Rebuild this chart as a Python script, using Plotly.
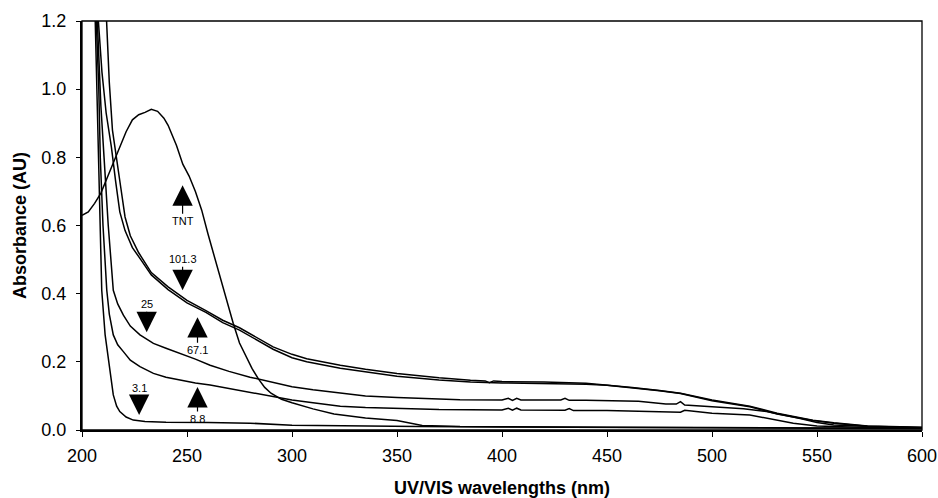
import plotly.graph_objects as go

# ---------------- data ----------------
wl_tnt = [200, 203, 206, 209, 212, 215, 218, 221, 224, 227, 230, 233, 236, 239, 241, 245,
          248, 251, 254, 257, 260, 263, 266, 269, 272, 275, 278, 281, 284, 287, 290, 295,
          300, 310, 320, 335, 350, 362, 380, 400, 450, 500, 550, 600]
abs_tnt = [0.63, 0.64, 0.665, 0.695, 0.74, 0.785, 0.83, 0.875, 0.91, 0.925, 0.932, 0.941,
           0.935, 0.915, 0.894, 0.835, 0.78, 0.745, 0.70, 0.645, 0.575, 0.51, 0.44, 0.375,
           0.313, 0.255, 0.215, 0.18, 0.15, 0.125, 0.108, 0.09, 0.08, 0.062, 0.047, 0.035,
           0.028, 0.013, 0.01, 0.009, 0.008, 0.007, 0.006, 0.005]

wl_101 = [211.7, 213, 214.5, 216.5, 218.5, 220.5, 223, 227, 233, 241, 250, 259, 267, 275,
          283, 291, 300, 307, 323, 335, 350, 370, 385, 392, 394, 396, 400, 420, 440, 450,
          462, 475, 485, 500, 518, 531, 548, 558, 574, 600]
abs_101 = [1.2, 1.02, 0.88, 0.80, 0.71, 0.625, 0.57, 0.52, 0.462, 0.42, 0.38, 0.35, 0.322,
           0.30, 0.272, 0.244, 0.222, 0.209, 0.19, 0.178, 0.166, 0.153, 0.146, 0.144, 0.139,
           0.144, 0.142, 0.141, 0.137, 0.132, 0.125, 0.116, 0.108, 0.088, 0.07, 0.049,
           0.029, 0.021, 0.012, 0.008]

wl_671 = [207.8, 209.5, 211.5, 214, 216, 218, 220.5, 224, 228, 233, 241, 250, 259, 267,
          275, 283, 291, 300, 307, 323, 335, 350, 370, 385, 400, 420, 440, 450, 462, 475,
          485, 500, 518, 531, 548, 558, 574, 600]
abs_671 = [1.2, 1.05, 0.93, 0.83, 0.73, 0.64, 0.585, 0.535, 0.50, 0.455, 0.412, 0.373,
           0.345, 0.315, 0.293, 0.265, 0.237, 0.212, 0.20, 0.181, 0.17, 0.158, 0.147,
           0.141, 0.138, 0.137, 0.134, 0.131, 0.124, 0.115, 0.107, 0.086, 0.068, 0.047,
           0.028, 0.02, 0.011, 0.007]

wl_25 = [207.3, 209, 210.5, 212.5, 214.9, 217, 219.7, 223, 227.6, 234, 240, 246.7, 254,
         261, 270, 280, 290, 300, 310, 323, 335, 350, 365, 380, 400, 403, 405, 407, 409,
         420, 428, 430, 432, 440, 450, 465, 478, 483, 485, 487, 500, 515, 526, 535, 542,
         550, 558, 575, 600]
abs_25 = [1.2, 0.95, 0.80, 0.60, 0.41, 0.37, 0.337, 0.305, 0.279, 0.254, 0.24, 0.225,
          0.208, 0.19, 0.172, 0.155, 0.14, 0.127, 0.118, 0.108, 0.10, 0.095, 0.092, 0.089,
          0.088, 0.093, 0.087, 0.093, 0.088, 0.088, 0.088, 0.093, 0.087, 0.087, 0.086,
          0.084, 0.076, 0.076, 0.083, 0.073, 0.068, 0.062, 0.054, 0.043, 0.034, 0.022,
          0.015, 0.01, 0.006]

wl_88 = [206.8, 208, 208.7, 210, 211.8, 213, 214.9, 217, 219.7, 223, 227.6, 234, 240,
         246.7, 254, 261, 270, 280, 290, 300, 310, 323, 335, 350, 370, 400, 403, 405, 407,
         409, 430, 432, 434, 450, 470, 485, 487, 500, 518, 530, 538.7, 550, 570, 600]
abs_88 = [1.2, 1.0, 0.80, 0.60, 0.41, 0.34, 0.279, 0.25, 0.23, 0.205, 0.186, 0.166, 0.155,
          0.147, 0.138, 0.132, 0.122, 0.11, 0.098, 0.088, 0.08, 0.07, 0.066, 0.064, 0.06,
          0.059, 0.064, 0.058, 0.064, 0.059, 0.058, 0.063, 0.057, 0.057, 0.054, 0.052,
          0.058, 0.049, 0.044, 0.03, 0.02, 0.012, 0.008, 0.005]

wl_31 = [206.3, 207, 207.8, 208.6, 209.4, 211, 213.3, 214.9, 216.5, 218, 221, 224.4, 230,
         240, 260, 280, 300, 330, 360, 400, 450, 500, 550, 600]
abs_31 = [1.2, 1.0, 0.80, 0.60, 0.41, 0.28, 0.181, 0.103, 0.07, 0.054, 0.038, 0.029, 0.025,
          0.023, 0.022, 0.02, 0.014, 0.011, 0.01, 0.009, 0.008, 0.006, 0.005, 0.004]

series = [
    ("TNT", wl_tnt, abs_tnt),
    ("101.3", wl_101, abs_101),
    ("67.1", wl_671, abs_671),
    ("25", wl_25, abs_25),
    ("8.8", wl_88, abs_88),
    ("3.1", wl_31, abs_31),
]

# arrow labels: text, wavelength and absorbance at the arrow tip
label_text = ["TNT", "101.3", "67.1", "25", "8.8", "3.1"]
label_wl = [247.9, 247.9, 255.0, 230.8, 255.0, 227.2]
label_abs = [0.718, 0.41, 0.331, 0.287, 0.126, 0.044]
# pixel offset of the label from the tip (positive = label below, arrow points up)
label_offset = [36, -31, 33, -28, 32, -27]

x_ticks = [200, 250, 300, 350, 400, 450, 500, 550, 600]
y_ticks = [0.0, 0.2, 0.4, 0.6, 0.8, 1.0, 1.2]

FONT = "Liberation Sans, Arial, sans-serif"

fig = go.Figure()
for name, xs, ys in series:
    fig.add_trace(go.Scatter(x=xs, y=ys, mode="lines", name=name,
                             line=dict(color="black", width=1.5), showlegend=False))

for t, xv, yv, off in zip(label_text, label_wl, label_abs, label_offset):
    fig.add_annotation(x=xv, y=yv, xref="x", yref="y", text=t, showarrow=True,
                       arrowhead=2, arrowsize=3.4, arrowwidth=1.2, arrowcolor="black",
                       ax=0, ay=off,
                       font=dict(family=FONT, size=11, color="black"))

fig.add_shape(type="rect", xref="paper", yref="paper", x0=0, y0=0, x1=1, y1=1,
              line=dict(color="black", width=1.3), fillcolor="rgba(0,0,0,0)", layer="above")

fig.update_layout(
    width=938, height=498,
    margin=dict(l=82, r=16, t=21, b=68, autoexpand=False),
    paper_bgcolor="white", plot_bgcolor="white",
    font=dict(family=FONT, size=18, color="black"),
    xaxis=dict(range=[200, 600], tickvals=x_ticks, ticks="outside", ticklen=5,
               tickwidth=1.3, tickcolor="black", showgrid=False, zeroline=False,
               showline=True, linecolor="black", linewidth=2, ticklabelstandoff=3,
               automargin=False,
               title=dict(text="<b>UV/VIS wavelengths (nm)</b>", standoff=17,
                          font=dict(size=18))),
    yaxis=dict(range=[0, 1.2], tickvals=y_ticks, tickformat=".1f", ticks="outside",
               ticklen=4, tickwidth=1.3, tickcolor="black", showgrid=False,
               zeroline=False, showline=True, linecolor="black", linewidth=2,
               ticklabelstandoff=6, automargin=False,
               title=dict(text="<b>Absorbance (AU)</b>", standoff=10, font=dict(size=18))),
)

fig.write_html(
    "out.html",
    config={"displayModeBar": False},
    post_script="document.documentElement.style.overflow='hidden';"
                "document.body.style.margin='0';document.body.style.overflow='hidden';",
)
